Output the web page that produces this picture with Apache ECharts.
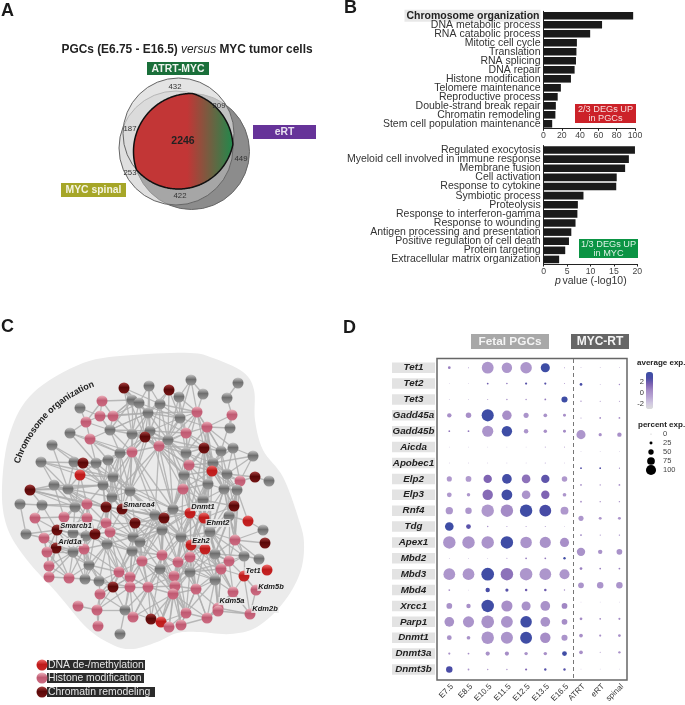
<!DOCTYPE html>
<html>
<head>
<meta charset="utf-8">
<title>PGCs versus MYC tumor cells</title>
<style>
  html, body { margin: 0; padding: 0; background: #fff; }
  #main { width: 685px; height: 705px; }
</style>
</head>
<body>
<div id="main"></div>
<script src="https://cdn.jsdelivr.net/npm/echarts@6/dist/echarts.min.js"></script>
<script>
// panel A
var vennCircles = [[191.5, 151.5, 58], [176, 148, 57], [178.5, 133.5, 55.5]];
var vennFills = ['#8c8c8c', 'rgba(192,192,192,0.5)', 'rgba(216,216,216,0.7)'];
var vennCounts = [['432', 175, 87], ['209', 219, 106], ['187', 130, 129], ['253', 130, 173], ['449', 241, 159], ['422', 180, 196]];

// panel B
var pgcTerms = ['Chromosome organization', 'DNA metabolic process', 'RNA catabolic process', 'Mitotic cell cycle', 'Translation', 'RNA splicing', 'DNA repair', 'Histone modification', 'Telomere maintenance', 'Reproductive process', 'Double-strand break repair', 'Chromatin remodeling', 'Stem cell population maintenance'];
var pgcValues = [98, 64, 51, 36.5, 36, 35.5, 34, 30, 19, 15.5, 13.5, 13, 9.5];
var mycTerms = ['Regulated exocytosis', 'Myeloid cell involved in immune response', 'Membrane fusion', 'Cell activation', 'Response to cytokine', 'Symbiotic process', 'Proteolysis', 'Response to interferon-gamma', 'Response to wounding', 'Antigen processing and presentation', 'Positive regulation of cell death', 'Protein targeting', 'Extracellular matrix organization'];
var mycValues = [19.5, 18.2, 17.4, 15.6, 15.5, 8.5, 7.3, 7.2, 6.8, 5.9, 5.4, 4.6, 3.3];

// panel C: x, y, type (g other, p histone, d chromatin, r DNA)
var networkNodes = [
  [124,388,'d'],[149,386,'g'],[169,390,'d'],[191,380,'g'],[179,397,'g'],[132,400,'g'],[139,403,'g'],[160,404,'g'],[80,408,'g'],[102,401,'p'],
  [148,413,'g'],[180,418,'g'],[100,416,'p'],[113,416,'p'],[86,422,'p'],[110,430,'g'],[70,433,'g'],[90,439,'p'],[132,434,'g'],[150,431,'g'],
  [145,437,'d'],[168,440,'g'],[186,433,'p'],[52,445,'g'],[159,446,'p'],[120,453,'g'],[132,452,'p'],[186,453,'g'],[41,462,'g'],[74,462,'g'],
  [83,463,'d'],[96,463,'g'],[108,460,'g'],[189,465,'p'],[80,475,'r'],[113,477,'g'],[184,475,'g'],[54,485,'g'],[30,490,'d'],[68,489,'g'],
  [103,485,'g'],[130,491,'g'],[183,489,'p'],[112,497,'g'],[20,504,'g'],[42,505,'g'],[75,507,'g'],[87,504,'p'],[106,507,'d'],[122,509,'d'],
  [173,509,'g'],[238,383,'g'],[203,394,'g'],[227,398,'g'],[197,412,'p'],[232,415,'p'],[207,427,'p'],[230,428,'g'],[204,448,'d'],[233,448,'g'],
  [221,451,'g'],[253,456,'g'],[213,463,'g'],[212,471,'r'],[227,474,'g'],[240,481,'p'],[255,477,'d'],[269,481,'g'],[208,484,'g'],[224,489,'g'],
  [237,490,'g'],[203,500,'g'],[234,506,'d'],[155,515,'g'],[164,518,'d'],[190,513,'r'],[204,518,'r'],[229,516,'g'],[248,521,'r'],[35,518,'p'],
  [64,517,'p'],[87,518,'p'],[106,523,'p'],[135,523,'d'],[162,530,'g'],[210,532,'g'],[263,530,'g'],[26,534,'g'],[57,530,'d'],[73,533,'g'],
  [86,536,'g'],[95,534,'d'],[110,532,'p'],[133,537,'g'],[140,542,'g'],[181,537,'g'],[235,540,'p'],[44,538,'p'],[56,548,'d'],[47,552,'p'],
  [73,552,'g'],[84,549,'p'],[107,544,'g'],[132,551,'g'],[191,545,'r'],[205,549,'r'],[215,554,'g'],[265,543,'d'],[162,555,'p'],[244,556,'g'],
  [259,559,'g'],[190,557,'p'],[142,561,'p'],[178,562,'p'],[229,561,'p'],[49,566,'p'],[89,565,'g'],[160,569,'g'],[221,569,'p'],[267,570,'r'],
  [119,572,'p'],[190,572,'g'],[174,576,'p'],[244,576,'r'],[49,577,'p'],[69,578,'p'],[85,579,'g'],[130,577,'p'],[99,581,'g'],[215,580,'g'],
  [175,586,'p'],[113,587,'d'],[130,587,'p'],[148,587,'p'],[196,589,'p'],[256,590,'p'],[233,592,'p'],[100,594,'p'],[173,594,'p'],[78,606,'p'],
  [218,608,'p'],[97,610,'p'],[125,610,'g'],[218,611,'p'],[186,613,'p'],[250,614,'p'],[133,617,'p'],[207,618,'p'],[151,619,'d'],[161,622,'r'],
  [181,625,'p'],[169,627,'p'],[98,626,'p'],[120,634,'g']
];
var networkEdges = [
  [0,[5,6,10,7,18,20]],[1,[6,7,10,19]],[2,[4,7,10,21,11]],[3,[4,54,11]],[4,[11,54,21,22]],[5,[6,10,18,15,13]],[6,[10,18,20,11]],
  [7,[10,11,19,21,54,24]],[8,[14,12]],[9,[12,13,14,5]],[10,[11,19,20,21,18,26,15,22,54]],[11,[21,22,54,19,24,56,27]],[12,[13,14,15,10]],
  [13,[15,10,18,5,6]],[14,[15,17,16]],[15,[17,18,25,26,19,10]],[16,[17,31,25]],[17,[25,31,26,32]],[18,[19,20,26,25,24,21,41]],
  [19,[20,21,24,26,22,27,41,50]],[20,[24,26,25,21,33,41,36]],[21,[22,24,27,33,36,50,42,58,54]],[22,[24,27,33,54,56,58,60]],[23,[29,30,39]],
  [24,[26,27,33,36,41,42,50,43,58,73]],[25,[26,31,32,35,40,41,43,49]],[26,[32,35,41,43,49,50,73,74]],[27,[33,36,42,50,54,56,58,62,63,75]],
  [28,[34,37,39,31,35]],[29,[30,31,34,39,40]],[30,[31,32,40,35]],[31,[32,34,35,40,43]],[32,[35,40,43,41]],[33,[36,42,50,58,62,63,68,71,75]],
  [34,[35,39,40,46,47]],[35,[40,41,43,48,49,50,73]],[36,[42,50,58,63,68,71,75,76]],[37,[38,39,46,40,47,80,48]],[38,[39,46,45,40,47,48]],
  [39,[40,46,47,48,43,81]],[40,[43,47,48,49,41,82]],[41,[43,49,50,73,74,83,84,42]],[42,[50,63,68,71,75,76,84,95,74]],[43,[48,49,73,83,82,92]],
  [44,[45,87]],[45,[46,79,88,47]],[46,[47,80,81,88,89]],[47,[48,81,82,89,90,91]],[48,[49,82,83,92,73,91,93]],[49,[73,83,92,93,94,84,74]],
  [50,[73,74,75,84,95,71,94,76,104]],[51,[53]],[52,[3,54]],[53,[55]],[54,[56,58,62,60]],[55,[56,57,60]],[56,[57,58,60,62,63,59,68]],
  [58,[60,62,63,64,68,69,71,75,76]],[59,[60,62,64,65,61]],[60,[62,63,64,69]],[61,[62,64,65]],[62,[63,64,68,69,70,71]],
  [63,[64,65,68,69,70,71,72,75,76,85]],[64,[65,69,70,72,77,66]],[65,[66,69,70,77,72,96]],[66,[67]],[68,[69,71,75,76,85,95,104]],
  [69,[70,71,72,76,77,85,96,105]],[70,[72,77,96,85,78]],[71,[72,75,76,85,95,104,105,111,84]],[72,[77,76,85,96,105,106]],
  [73,[74,83,84,93,94,95,108,112,75]],[74,[75,83,84,93,94,95,104,108,113,112,117]],[75,[76,84,85,95,104,105,111,113,108]],
  [76,[85,95,104,105,106,111,114,118]],[77,[85,96,105,106,114,78,109]],[79,[80,88,97]],[80,[81,88,89]],[81,[82,89,90,91,88,101]],
  [82,[83,91,92,93,90]],[83,[84,92,93,94,103,112,108]],[84,[93,94,95,103,108,112,113,117,104]],[85,[95,96,104,105,106,111,114,118,109]],
  [86,[96,78]],[87,[97,88]],[88,[89,90,97,98,99,100,101]],[89,[90,91,100,101,98,116]],[90,[91,100,101,102,116]],[91,[92,101,102,103,116,120]],
  [92,[93,102,103,94,120,127]],[93,[94,102,103,112,120,127]],[94,[103,108,112,117,127,133]],[95,[104,105,108,111,113,117,121,122,130]],
  [96,[106,107,109,114,110]],[97,[98,99,100,115]],[98,[99,100,101,115,124,116,125]],[99,[100,115,124,125]],[100,[101,115,116,124,125,126]],
  [101,[102,116,125,126,128,120]],[102,[103,116,120,126,128,127,131]],[103,[108,112,120,127,132,131,133]],
  [104,[105,106,111,113,114,118,121,122,129,134]],[105,[106,111,114,118,121,129,134,136]],[106,[109,114,118,121,129,136,140]],
  [108,[112,113,117,121,122,130,133,138]],[109,[114,118,110,123]],[111,[113,118,121,122,129,130,134,138]],[112,[117,120,127,132,133,130,138]],
  [113,[117,121,122,129,130,134,138,144]],[114,[118,121,129,136,123]],[115,[124,125]],[116,[120,125,126,128,131]],
  [117,[122,130,133,138,132,146,148,144]],[118,[121,129,134,136,123,140,143]],[120,[127,128,131,132,133,137]],
  [121,[122,129,130,134,138,144,147]],[122,[130,133,138,144,150,149]],[123,[136,135,145]],[124,[125]],[125,[126]],[126,[128]],
  [127,[131,132,133,142,137]],[128,[131,137,132]],[129,[134,136,140,143,147,144]],[130,[133,138,144,149,150,151,134]],
  [131,[132,137,141,142]],[132,[133,142,146,148,141]],[133,[138,142,146,148,149,151]],[134,[138,144,147,140,150]],[135,[145]],
  [136,[140,143,145,147]],[137,[141,142,152]],[138,[144,146,148,149,150,151,147]],[139,[141]],[140,[143,145,147]],[141,[142,152]],
  [142,[146,153,148]],[143,[145,147]],[144,[147,149,150,151]],[147,[150]]
];
var blobOutline = [[2,487],[10,433],[33,393],[83,363],[133,355],[190,353],[213,358],[243,372],[254,390],[255,420],[263,450],[283,477],[298,517],[304,543],[300,573],[283,603],[257,627],[230,634],[200,632],[177,633],[157,642],[133,649],[113,645],[87,628],[57,593],[27,560],[7,527]];
var geneLabels = [['Smarca4',139,505],['Dnmt1',203,507],['Ehmt2',218,523],['Smarcb1',76,526],['Arid1a',70,542],['Ezh2',201,541],['Tet1',253,571],['Kdm5b',271,587],['Kdm5a',232,601],['Kdm2b',265,609]];
var networkLegend = [['DNA de-/methylation','r',665,145],['Histone modification','p',678,144],['Chromatin remodeling','d',692,155]];

// panel D
var genes = ['Tet1','Tet2','Tet3','Gadd45a','Gadd45b','Aicda','Apobec1','Elp2','Elp3','Rnf4','Tdg','Apex1','Mbd2','Mbd3','Mbd4','Xrcc1','Parp1','Dnmt1','Dnmt3a','Dnmt3b'];
var fetalStages = ['E7.5','E8.5','E10.5','E11.5','E12.5','E13.5','E16.5'];
var tumorTypes = ['ATRT','eRT','spinal'];
var fetalPct = [
  [17,3,93,81,90,70,3],[1,1,9,6,12,12,3],[1,1,3,6,6,9,45],[31,40,95,73,37,25,19],[9,9,87,81,31,23,19],
  [1,1,1,1,1,3,3],[1,1,1,1,1,3,1],[37,42,64,75,66,64,40],[34,23,81,84,66,64,25],[55,48,98,98,98,93,60],
  [66,34,6,3,3,3,1],[98,98,98,98,90,87,70],[1,1,1,3,9,9,14],[92,92,100,98,98,92,78],[9,1,31,21,15,15,6],
  [42,31,98,87,70,75,42],[75,87,100,93,90,75,42],[34,25,98,95,93,81,45],[12,9,29,29,23,23,34],[48,9,6,6,12,14,14]
];
var fetalExp = [
  [.8,0,0,0,0,3.6,0],[-1,-1,2,1.5,2.5,2.5,0],[0,0,0,.5,.5,1,3.6],[.3,.3,3.6,.3,.1,.2,.3],[1,1,.1,3.6,.1,.3,.5],
  [-1,-1,-1,-1,-1,-.5,-.5],[-1,-1,-1,-1,-1,-.5,-1],[-.1,-.2,1.6,3.2,1.2,2.3,-.1],[-.1,0,1.4,3.4,.1,1.6,0],[0,0,-.1,.5,3.5,2.9,-.1],
  [3.6,2.4,.3,0,0,0,-.5],[.1,.1,.1,3.5,.1,.2,.3],[0,0,0,.3,.9,1,3.4],[0,0,3.5,1.2,0,0,0],[.3,-1,3,2.5,2,2,.5],
  [.2,.3,3.5,.3,.2,.2,.6],[.2,.1,.2,.1,3.5,.2,.4],[.2,.2,.1,.1,3.5,.4,.1],[.3,.4,.2,.4,.2,.3,3.5],[2.8,.2,.1,.1,1.5,2.5,2.5]
];
// tumor dots sit on their own, wider row spacing in the figure
var tumorRows = ['1','2','3','4','5','6','7','8','9','10','11','12','13','14','15','16','17','18','19'];
var tumorPct = [[1,1,1],[17,1,6],[6,3,3],[3,9,9],[70,21,31],[1,1,1],[9,9,3],[9,6,9],[9,6,6],[37,19,19],[9,3,6],[64,31,42],[17,9,9],[42,48,48],[1,1,1],[17,9,12],[25,12,17],[25,3,14],[1,1,1]];
var tumorExp = [[.3,.3,.3],[3,.5,.5],[.5,.5,.5],[.5,.5,.5],[0,.3,.3],[-1,-1,-1],[2.6,2.6,1],[.3,.3,.3],[.3,.3,.3],[0,0,0],[.8,.8,.8],[.2,.2,.2],[.8,.8,.8],[.1,.1,.1],[-1,-1,-1],[.5,.5,.5],[.3,.3,.3],[.3,.3,.3],[-1,-1,-1]];
var pctLegendValues = [0, 25, 50, 75, 100];
var expLegendTicks = [2, 0, -2];

var FONT = '"Liberation Sans", Arial, sans-serif';

function sphere(type) {
  var stops = {
    g: ['#c8c8c8', '#6e6e6e', '#9a9a9a'],
    p: ['#eeb4be', '#c05a72', '#cc6c82'],
    d: ['#a84040', '#5a0808', '#741414'],
    r: ['#f07070', '#bf1a1a', '#c42626']
  }[type];
  return new echarts.graphic.LinearGradient(0, 0, 0, 1, [
    { offset: 0, color: stops[0] }, { offset: 0.45, color: stops[1] }, { offset: 1, color: stops[2] }
  ]);
}

function txt(s, x, y, size, color, extra) {
  var style = { text: s, x: x, y: y, fontSize: size, fontFamily: FONT, fill: color, align: 'center', verticalAlign: 'middle' };
  for (var k in (extra || {})) style[k] = extra[k];
  return { type: 'text', z: 60, silent: true, style: style };
}

function tag(x, y, w, h, fill, s, size, color, extra) {
  return [
    { type: 'rect', z: 55, silent: true, shape: { x: x, y: y, width: w, height: h }, style: { fill: fill } },
    txt(s, x + w / 2, y + h / 2 + 0.5, size, color, extra)
  ];
}

var graphics = [];
[['A', 1, 11], ['B', 344, 8], ['C', 1, 327], ['D', 343, 328]].forEach(function (p) {
  graphics.push(txt(p[0], p[1], p[2], 18, '#1a1a1a', { fontWeight: 'bold', align: 'left' }));
});
graphics.push(txt('PGCs (E6.75 - E16.5) {i|versus} MYC tumor cells', 187, 49.5, 11.9, '#222', {
  fontWeight: 'bold',
  rich: { i: { fontStyle: 'italic', fontWeight: 'normal', fontSize: 11.9, fontFamily: FONT, fill: '#222' } }
}));
graphics = graphics
  .concat(tag(147, 62, 62, 13, '#1a6f3a', 'ATRT-MYC', 10.4, '#eef3ee', { fontWeight: 'bold' }))
  .concat(tag(253, 125, 63, 14, '#663399', 'eRT', 10.4, '#e8e0f0', { fontWeight: 'bold' }))
  .concat(tag(61, 183, 65, 14, '#a6a628', 'MYC spinal', 10.4, '#f4f4e0', { fontWeight: 'bold' }))
  .concat(tag(575, 104, 61, 19, '#cc2229', '2/3 DEGs UP\nin PGCs', 9.2, '#f7dede', { lineHeight: 8.5 }))
  .concat(tag(579, 239, 59, 19, '#0b9444', '1/3 DEGs UP\nin MYC', 9.2, '#def2e6', { lineHeight: 8.5 }))
  .concat(tag(471, 334, 78, 15, '#a8a8a8', 'Fetal PGCs', 11.8, '#f4f4f4', { fontWeight: 'bold' }))
  .concat(tag(571, 334, 58, 15, '#666666', 'MYC-RT', 12, '#f4f4f4', { fontWeight: 'bold' }));

vennCounts.forEach(function (c) { graphics.push(txt(c[0], c[1], c[2], 7.8, '#333')); });
graphics.push(txt('2246', 183, 141, 10.5, '#222', { fontWeight: 'bold' }));

graphics.push(txt('p', 555, 281, 10.5, '#333', { fontStyle: 'italic', align: 'left' }));
graphics.push(txt('value (-log10)', 562.5, 281, 10.5, '#333', { align: 'left' }));

// curved panel C heading, one glyph at a time along its arc
(function () {
  var heading = 'Chromosome organization';
  var ctx = document.createElement('canvas').getContext('2d');
  ctx.font = 'bold 9px ' + FONT;
  var radius = 126.5, cx = 137.1, cy = 502.8;
  var a0 = 198.3 * Math.PI / 180, run = 0;
  heading.split('').forEach(function (ch) {
    var w = ctx.measureText(ch).width;
    var a = a0 + (run + w / 2) / radius;
    run += w;
    graphics.push({
      type: 'text', z: 60, silent: true,
      x: cx + radius * Math.cos(a), y: cy + radius * Math.sin(a),
      rotation: -(a + Math.PI / 2),
      style: { text: ch, fontSize: 9, fontWeight: 'bold', fontFamily: FONT, fill: '#222', align: 'center', verticalAlign: 'middle' }
    });
  });
})();

geneLabels.forEach(function (g) {
  graphics.push(txt(g[0], g[1], g[2], 7.5, '#1a1a1a', {
    fontWeight: 'bold', fontStyle: 'italic', backgroundColor: 'rgba(235,235,235,0.8)', padding: [0, 1]
  }));
});
networkLegend.forEach(function (l) {
  graphics.push({ type: 'rect', z: 55, silent: true, shape: { x: 47, y: l[2] - 5, width: l[3] - 47, height: 10 }, style: { fill: '#2b2b2b' } });
  graphics.push({ type: 'circle', z: 56, silent: true, shape: { cx: 42, cy: l[2], r: 5.5 }, style: { fill: sphere(l[1]) } });
  graphics.push(txt(l[0], 48, l[2], 10.4, '#e6e6e6', { align: 'left' }));
});

// panel D frame and legends
graphics.push({ type: 'rect', z: 20, silent: true, shape: { x: 437, y: 358.5, width: 190, height: 321.5 }, style: { fill: 'none', stroke: '#666', lineWidth: 1.5 } });
graphics.push({ type: 'line', z: 20, silent: true, shape: { x1: 573.5, y1: 359, x2: 573.5, y2: 680 }, style: { stroke: '#777', lineWidth: 1, lineDash: [4, 3] } });
graphics.push(txt('average exp.', 637, 363, 8, '#222', { fontWeight: 'bold', align: 'left' }));
graphics.push(txt('percent exp.', 638, 425, 8, '#222', { fontWeight: 'bold', align: 'left' }));
expLegendTicks.forEach(function (t) {
  graphics.push(txt(String(t), 644, 393 - t * 5.5, 7.5, '#333', { align: 'right' }));
});

function dotSize(val) { return 0.7 + val[2] * 0.12; }
function dots(pct, exp) {
  var out = [];
  pct.forEach(function (row, r) {
    row.forEach(function (p, c) { out.push([c, r, p, exp[r][c]]); });
  });
  return out;
}

// closed Catmull-Rom through the outline so the blob has no corners
function roundOutline(pts) {
  var out = [], n = pts.length;
  for (var i = 0; i < n; i++) {
    var p0 = pts[(i + n - 1) % n], p1 = pts[i], p2 = pts[(i + 1) % n], p3 = pts[(i + 2) % n];
    for (var s = 0; s < 8; s++) {
      var t = s / 8, t2 = t * t, t3 = t2 * t;
      out.push([0, 1].map(function (d) {
        return 0.5 * (2 * p1[d] + (p2[d] - p0[d]) * t + (2 * p0[d] - 5 * p1[d] + 4 * p2[d] - p3[d]) * t2 + (3 * p1[d] - p0[d] - 3 * p2[d] + p3[d]) * t3);
      }));
    }
  }
  return out;
}

var nodeData = networkNodes.map(function (n, i) {
  return { name: String(i), value: [n[0], n[1]], itemStyle: { color: sphere(n[2]) } };
});
var linkData = [];
networkEdges.forEach(function (e) {
  e[1].forEach(function (t) { linkData.push({ source: e[0], target: t }); });
});

function termAxis(terms) {
  return {
    type: 'category', inverse: true, data: terms,
    axisTick: { show: false },
    axisLine: { lineStyle: { color: '#222', width: 1 } },
    axisLabel: {
      interval: 0, margin: 3, fontSize: 10.5, color: '#333',
      formatter: function (v) { return v === 'Chromosome organization' ? '{hi|' + v + '}' : v; },
      rich: { hi: { fontWeight: 'bold', fontSize: 10.5, color: '#222', backgroundColor: '#e8e8e8', padding: [1, 1, 0, 2] } }
    }
  };
}
function pvalueAxis(max, step) {
  return {
    type: 'value', min: 0, max: max, interval: step,
    splitLine: { show: false },
    axisLine: { show: true, lineStyle: { color: '#222', width: 1 } },
    axisTick: { show: true, length: 2.5, lineStyle: { color: '#222' } },
    axisLabel: { fontSize: 8.7, margin: 3, color: '#444' }
  };
}
function stageAxis(labels, gridIndex) {
  return {
    type: 'category', gridIndex: gridIndex, data: labels,
    axisTick: { show: false }, axisLine: { show: false },
    axisLabel: { interval: 0, rotate: 45, fontSize: 8, margin: 5, verticalAlign: 'top', color: '#333' }
  };
}

var option = {
  animation: false,
  backgroundColor: '#fff',
  textStyle: { fontFamily: FONT },
  graphic: graphics,
  grid: [
    { left: 0, top: 0, width: 685, height: 705 },
    { left: 543.5, top: 11.3, width: 91.5, height: 117 },
    { left: 543.7, top: 145.5, width: 93.6, height: 118.5 },
    { left: 439.7, top: 359.75, width: 134.4, height: 318 },
    { left: 571.4, top: 359.3, width: 57.6, height: 320 },
    { left: 641, top: 429.5, width: 20, height: 45 }
  ],
  xAxis: [
    { type: 'value', gridIndex: 0, min: 0, max: 685, show: false },
    Object.assign(pvalueAxis(100, 20), { gridIndex: 1 }),
    Object.assign(pvalueAxis(20, 5), { gridIndex: 2 }),
    stageAxis(fetalStages, 3),
    stageAxis(tumorTypes, 4),
    { type: 'category', gridIndex: 5, data: ['size'], show: false }
  ],
  yAxis: [
    { type: 'value', gridIndex: 0, min: 0, max: 705, inverse: true, show: false },
    Object.assign(termAxis(pgcTerms), { gridIndex: 1 }),
    Object.assign(termAxis(mycTerms), { gridIndex: 2 }),
    {
      type: 'category', gridIndex: 3, inverse: true, data: genes,
      axisTick: { show: false }, axisLine: { show: false },
      axisLabel: {
        interval: 0, margin: 4.7,
        formatter: function (v) { return '{g|' + v + '}'; },
        rich: { g: { width: 43, height: 10.5, lineHeight: 10.5, align: 'center', backgroundColor: '#e3e3e3', fontSize: 9.8, fontWeight: 'bold', fontStyle: 'italic', color: '#222' } }
      }
    },
    { type: 'category', gridIndex: 4, inverse: true, data: tumorRows, show: false },
    {
      type: 'category', gridIndex: 5, inverse: true, position: 'right', data: pctLegendValues,
      axisTick: { show: false }, axisLine: { show: false },
      axisLabel: { interval: 0, margin: 2, fontSize: 7.5, color: '#444' }
    }
  ],
  visualMap: {
    type: 'continuous', seriesIndex: [6, 7], dimension: 3, min: -2.9, max: 3.9,
    left: 646, top: 372, padding: 0, itemWidth: 7, itemHeight: 37, calculable: false, hoverLink: false,
    showLabel: false, text: null, align: 'left',
    inRange: { color: ['#dcdcdc', '#cfc6e0', '#b8a4d3', '#a48bc6', '#7e63b2', '#4a4ca6', '#3a4ea5'] }
  },
  series: [
    {
      type: 'custom', xAxisIndex: 0, yAxisIndex: 0, silent: true, z: 1, clip: false,
      data: [[0, 0]],
      renderItem: function (params, api) {
        return {
          type: 'polygon',
          shape: { points: roundOutline(blobOutline).map(function (p) { return api.coord(p); }) },
          style: { fill: '#ebebeb' }
        };
      }
    },
    {
      type: 'graph', coordinateSystem: 'cartesian2d', xAxisIndex: 0, yAxisIndex: 0, layout: 'none', silent: true, z: 2,
      symbolSize: 11,
      lineStyle: { color: '#aeaeae', width: 1.3, opacity: 0.85 },
      data: nodeData, links: linkData
    },
    {
      type: 'custom', xAxisIndex: 0, yAxisIndex: 0, silent: true, z: 3, clip: false,
      data: vennCircles,
      renderItem: function (params, api) {
        var c = api.coord([api.value(0), api.value(1)]);
        return {
          type: 'circle',
          shape: { cx: c[0], cy: c[1], r: api.value(2) },
          style: { fill: vennFills[params.dataIndex], stroke: '#666', lineWidth: 1 }
        };
      }
    },
    {
      // shared core of the three circles
      type: 'custom', xAxisIndex: 0, yAxisIndex: 0, silent: true, z: 4, clip: false,
      data: [[0, 0]],
      renderItem: function (params, api) {
        var ox = 182, oy = 142, pts = [];
        for (var i = 0; i < 360; i++) {
          var a = i * Math.PI / 180, best = 999;
          vennCircles.forEach(function (k) {
            var dx = ox - k[0], dy = oy - k[1];
            var b = dx * Math.cos(a) + dy * Math.sin(a);
            var d = -b + Math.sqrt(b * b - (dx * dx + dy * dy - k[2] * k[2]));
            if (d < best) best = d;
          });
          pts.push(api.coord([ox + best * Math.cos(a), oy + best * Math.sin(a)]));
        }
        return {
          type: 'polygon', shape: { points: pts },
          style: {
            stroke: '#111', lineWidth: 1.5,
            fill: new echarts.graphic.LinearGradient(0, 0, 1, 0, [
              { offset: 0, color: '#c23636' }, { offset: 0.54, color: '#c23636' }, { offset: 1, color: '#1f8a4c' }
            ])
          }
        };
      }
    },
    { type: 'bar', xAxisIndex: 1, yAxisIndex: 1, data: pgcValues, barWidth: 7.6, itemStyle: { color: '#1a1a1a' }, silent: true },
    { type: 'bar', xAxisIndex: 2, yAxisIndex: 2, data: mycValues, barWidth: 7.6, itemStyle: { color: '#1a1a1a' }, silent: true },
    { type: 'scatter', xAxisIndex: 3, yAxisIndex: 3, data: dots(fetalPct, fetalExp), symbolSize: dotSize, itemStyle: { opacity: 1 }, silent: true, z: 5 },
    { type: 'scatter', xAxisIndex: 4, yAxisIndex: 4, data: dots(tumorPct, tumorExp), symbolSize: dotSize, itemStyle: { opacity: 1 }, silent: true, z: 5 },
    {
      type: 'scatter', xAxisIndex: 5, yAxisIndex: 5, silent: true,
      data: pctLegendValues.map(function (v, i) { return [0, i, v]; }),
      symbolSize: function (val) { return 0.6 + val[2] * 0.095; },
      itemStyle: { color: '#000', opacity: 1 }
    }
  ]
};

var chart = echarts.init(document.getElementById('main'));
chart.setOption(option);
</script>
</body>
</html>
